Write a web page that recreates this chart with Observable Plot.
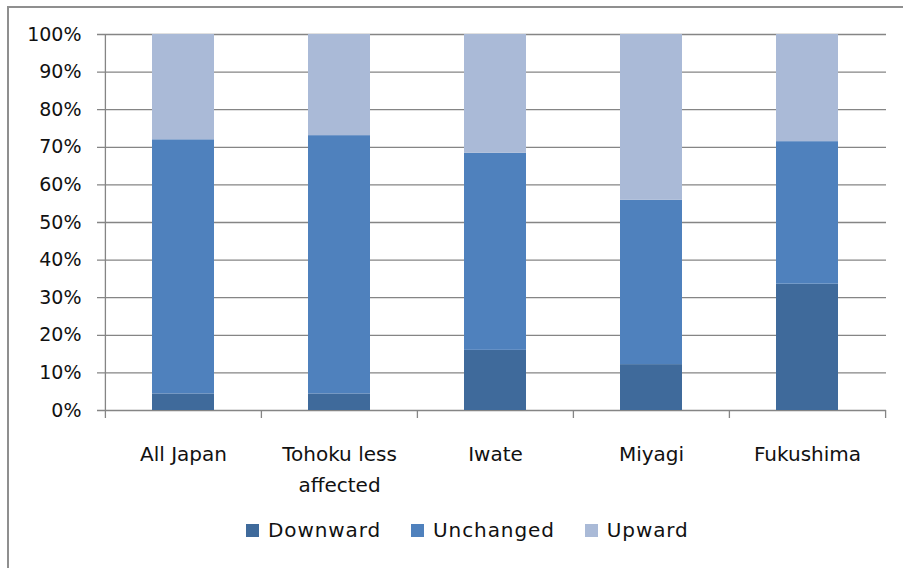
<!DOCTYPE html>
<html><head><meta charset="utf-8">
<script src="https://cdn.jsdelivr.net/npm/d3@7"></script>
<script src="https://cdn.jsdelivr.net/npm/@observablehq/plot@0.6"></script>
<style>
html,body{margin:0;padding:0;background:#fff;overflow:hidden;}
#wrap{position:relative;width:903px;height:568px;overflow:hidden;}
#frame{position:absolute;left:7px;top:6px;width:1000px;height:1000px;border:2px solid #8f8f8f;box-sizing:border-box;}
#chart{position:absolute;left:0;top:0;}
#legend{position:absolute;left:246px;top:517px;height:26px;display:flex;align-items:center;font-family:"DejaVu Sans";font-size:20px;color:#111;}
.item{display:flex;align-items:center;margin-right:30px;letter-spacing:0.9px}
.sw{width:13px;height:13px;margin-right:9px}
</style></head><body>
<div id="wrap"><div id="frame"></div><div id="chart"></div><div id="legend"></div></div>
<script>
const categories = ["All Japan", "Tohoku less affected", "Iwate", "Miyagi", "Fukushima"];
const xTickLabels = ["All Japan", "Tohoku less\naffected", "Iwate", "Miyagi", "Fukushima"];
const series = ["Downward", "Unchanged", "Upward"];
const downward = [4.4, 4.4, 16.0, 12.2, 33.6];
const unchanged = [67.6, 68.7, 52.4, 43.7, 37.9];
const upward = [28.0, 26.9, 31.6, 44.1, 28.5];
const colors = ["#3F6A9B", "#4F81BD", "#AABAD7"];
const yTicks = [0, 10, 20, 30, 40, 50, 60, 70, 80, 90, 100];

const values = [downward, unchanged, upward];
const rows = [];
categories.forEach((c, i) => {
  series.forEach((s, j) => rows.push({category: c, series: s, value: values[j][i]}));
});

const W = 903, H = 500, mL = 105, mR = 17, mT = 34, mB = 90;
const halfStep = (W - mL - mR) / categories.length / 2;
const gray = "#858585";

const chart = Plot.plot({
  width: W, height: H,
  marginLeft: mL, marginRight: mR, marginTop: mT, marginBottom: mB,
  style: {fontFamily: "DejaVu Sans", color: "#111", background: "transparent", overflow: "visible"},
  x: {domain: categories, paddingInner: 0.6, paddingOuter: 0.3, label: null},
  y: {domain: [0, 100], label: null},
  color: {domain: series, range: colors},
  marks: [
    Plot.gridY(yTicks, {stroke: gray, strokeOpacity: 1, strokeWidth: 1.3, insetLeft: -8}),
    Plot.barY(rows, {x: "category", y: "value", fill: "series"}),
    Plot.ruleX([categories[0]], {dx: -halfStep, stroke: gray, strokeWidth: 1.3}),
    Plot.axisX({tickSize: 8, text: null, dx: -halfStep, color: gray, strokeWidth: 1.3}),
    Plot.axisX([categories[categories.length - 1]], {tickSize: 8, text: null, dx: halfStep, color: gray, strokeWidth: 1.3}),
    Plot.axisX({tickSize: 0, tickPadding: 28, fontSize: 20, lineHeight: 1.55, letterSpacing: 0.5,
      tickFormat: d => xTickLabels[categories.indexOf(d)]}),
    Plot.axisY(yTicks, {tickSize: 0, tickPadding: 24, fontSize: 19, tickFormat: d => d + "%"})
  ]
});
document.getElementById("chart").appendChild(chart);

const legend = document.getElementById("legend");
series.forEach((s, j) => {
  const item = document.createElement("div");
  item.className = "item";
  const sw = document.createElement("span");
  sw.className = "sw";
  sw.style.background = colors[j];
  const t = document.createElement("span");
  t.textContent = s;
  item.appendChild(sw);
  item.appendChild(t);
  legend.appendChild(item);
});
</script>
</body></html>
